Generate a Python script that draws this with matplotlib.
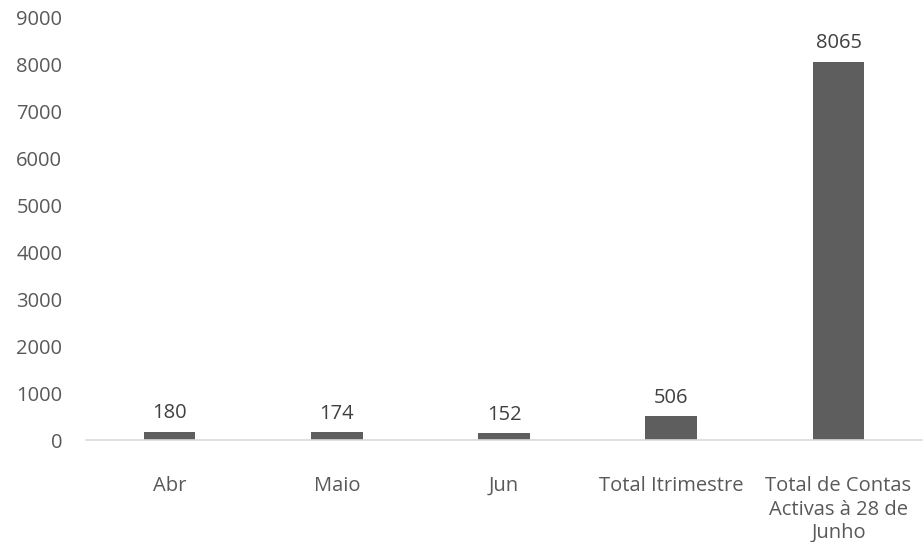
import matplotlib
matplotlib.use("Agg")
import matplotlib.pyplot as plt
import numpy as np

categories = ["Abr", "Maio", "Jun", "Total Itrimestre", "Total de Contas\nActivas à 28 de\nJunho"]
values = [180, 174, 152, 506, 8065]
yticks = list(range(0, 10000, 1000))

plt.rcParams["font.family"] = ["Open Sans", "DejaVu Sans"]
text_col = "#595959"
bar_col = "#5e5e5e"
fs = 14.5

fig = plt.figure(figsize=(9.24, 5.42), dpi=100)
ax = fig.add_axes([0.093, 0.188, 0.905, 0.779])

x = np.arange(len(categories))
ax.bar(x, values, width=0.31, color=bar_col, zorder=2)
for xi, v in zip(x, values):
    ax.annotate(str(v), (xi, v), xytext=(0, 6), textcoords="offset points",
                ha="center", va="bottom", fontsize=fs, color="#404040")

ax.set_xlim(-0.5, len(categories) - 0.5)
ax.set_ylim(0, 9000)
ax.set_yticks(yticks)
ax.set_yticklabels([str(t) for t in yticks])
ax.set_xticks(x)
ax.set_xticklabels(categories, linespacing=1.22)

for s in ["top", "right", "left"]:
    ax.spines[s].set_visible(False)
ax.spines["bottom"].set_color("#d9d9d9")
ax.spines["bottom"].set_linewidth(1.2)
ax.tick_params(axis="both", length=0, colors=text_col, labelsize=fs)
ax.tick_params(axis="y", pad=17)
ax.tick_params(axis="x", pad=26)

fig.savefig("out.png", dpi=100)
